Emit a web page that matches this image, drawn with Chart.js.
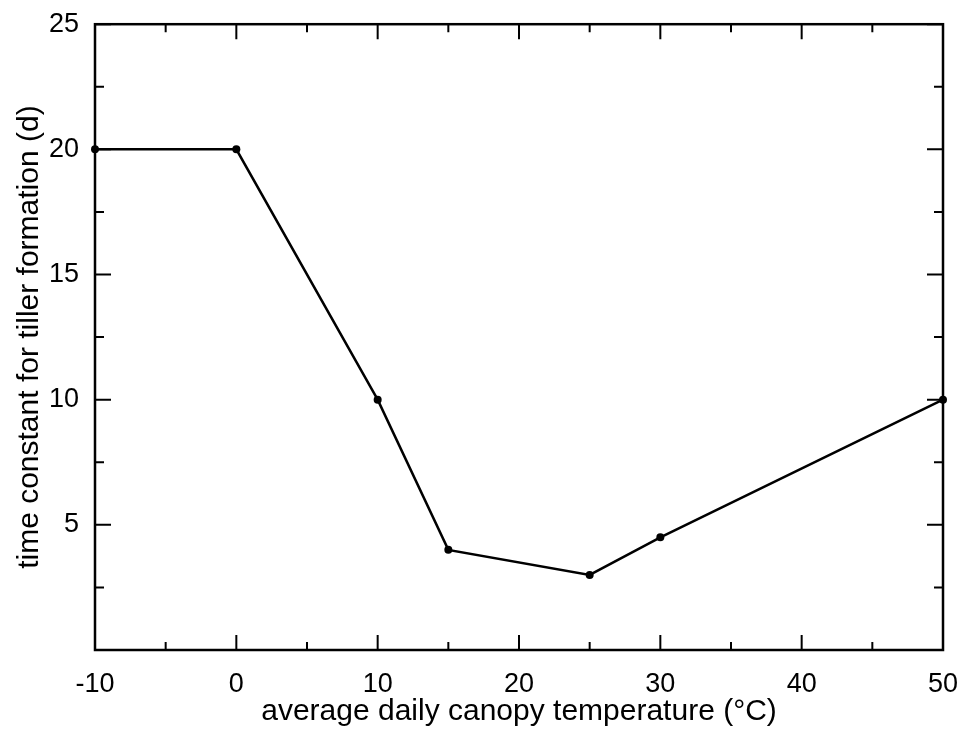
<!DOCTYPE html>
<html>
<head>
<meta charset="utf-8">
<script src="https://cdn.jsdelivr.net/npm/chart.js@4/dist/chart.umd.min.js"></script>
<style>
  html, body { margin: 0; padding: 0; background: #ffffff; }
  #wrap { width: 972px; height: 732px; }
</style>
</head>
<body>
<div id="wrap"><canvas id="chart" width="972" height="732"></canvas></div>
<script>
// temperature (°C) vs time constant (d)
const temperatures = [-10, 0, 10, 15, 25, 30, 50];
const timeConstants = [20, 20, 10, 4, 3, 4.5, 10];
const xTicks = [-10, 0, 10, 20, 30, 40, 50];
const yTicks = [5, 10, 15, 20, 25];

const FONT = 'Liberation Sans, Arial, Helvetica, sans-serif';

// ticks drawn inward on all four sides, plus the top/right frame
const frameTicks = {
    id: 'frameTicks',
    afterDraw(chart) {
        const { ctx, chartArea: a, scales: { x, y } } = chart;
        ctx.save();
        ctx.strokeStyle = '#000';
        ctx.lineWidth = 2.5;
        ctx.strokeRect(a.left, a.top, a.right - a.left, a.bottom - a.top);
        ctx.lineWidth = 2;
        for (let v = -10; v <= 50; v += 5) {
            const px = x.getPixelForValue(v);
            const len = v % 10 === 0 ? 15 : 8;
            ctx.beginPath();
            ctx.moveTo(px, a.bottom); ctx.lineTo(px, a.bottom - len);
            ctx.moveTo(px, a.top); ctx.lineTo(px, a.top + len);
            ctx.stroke();
        }
        for (let v = 0; v <= 25; v += 2.5) {
            const py = y.getPixelForValue(v);
            const len = v % 5 === 0 ? 16 : 9;
            ctx.beginPath();
            ctx.moveTo(a.left, py); ctx.lineTo(a.left + len, py);
            ctx.moveTo(a.right, py); ctx.lineTo(a.right - len, py);
            ctx.stroke();
        }
        ctx.restore();
    }
};

new Chart(document.getElementById('chart'), {
    type: 'line',
    data: {
        datasets: [{
            data: temperatures.map((t, i) => ({ x: t, y: timeConstants[i] })),
            borderColor: '#000',
            borderWidth: 2.5,
            backgroundColor: '#000',
            pointRadius: 4,
            pointBackgroundColor: '#000',
            pointBorderWidth: 0,
            tension: 0,
            clip: false
        }]
    },
    options: {
        responsive: false,
        animation: false,
        layout: { padding: { top: 4, right: 29, left: 12, bottom: 0 } },
        plugins: { legend: { display: false }, tooltip: { enabled: false } },
        scales: {
            x: {
                type: 'linear',
                min: -10, max: 50,
                afterBuildTicks: s => { s.ticks = xTicks.map(v => ({ value: v })); },
                afterFit: s => { s.height = 82; },
                grid: { display: false },
                border: { display: false },
                ticks: { color: '#000', padding: 10, maxRotation: 0, font: { family: FONT, size: 27 } },
                title: {
                    display: true,
                    text: 'average daily canopy temperature (°C)',
                    color: '#000',
                    padding: { top: 0, bottom: 2 },
                    font: { family: FONT, size: 30 }
                }
            },
            y: {
                min: 0, max: 25,
                afterBuildTicks: s => { s.ticks = yTicks.map(v => ({ value: v })); },
                afterFit: s => { s.width = 83; },
                grid: { display: false },
                border: { display: false },
                ticks: { color: '#000', padding: 8, font: { family: FONT, size: 27 } },
                title: {
                    display: true,
                    text: 'time constant for tiller formation (d)',
                    color: '#000',
                    padding: { top: 0, bottom: 0 },
                    font: { family: FONT, size: 30 }
                }
            }
        }
    },
    plugins: [frameTicks]
});
</script>
</body>
</html>
